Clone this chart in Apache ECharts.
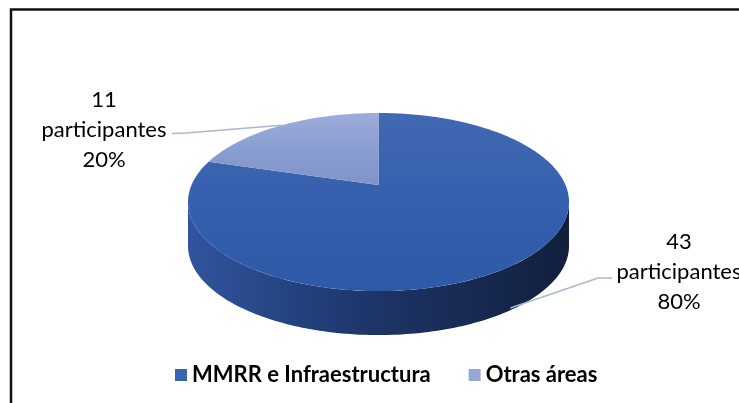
<!DOCTYPE html>
<html>
<head>
<meta charset="utf-8">
<script src="https://cdn.jsdelivr.net/npm/echarts@6/dist/echarts.min.js"></script>
<style>
  html, body { margin: 0; padding: 0; background: #fff; }
  #chart { width: 739px; height: 403px; }
</style>
</head>
<body>
<div id="chart"></div>
<script>
var categories = ["MMRR e Infraestructura", "Otras áreas"];
var participants = [43, 11];

// tilted pie geometry (px)
var CX = 378.5, CY = 185, RX = 187, RY = 85.8, PERSP = 0.191, DEPTH = 44;
var total = participants.reduce(function (a, b) { return a + b; }, 0);

// theta: clockwise from 12 o'clock
function project(theta, dy) {
  var u = Math.sin(theta), v = -Math.cos(theta);
  var k = 1 - PERSP * v;
  return [CX + RX * u / k, CY + RY * v / k + (dy || 0)];
}
function arc(t0, t1, dy) {
  var pts = [];
  var n = Math.max(2, Math.ceil(Math.abs(t1 - t0) / 0.02));
  for (var i = 0; i <= n; i++) pts.push(project(t0 + (t1 - t0) * i / n, dy));
  return pts;
}
function grad(x, y, x2, y2, stops) {
  return { type: "linear", x: x, y: y, x2: x2, y2: y2, global: true,
    colorStops: stops.map(function (c, i) { return { offset: i / (stops.length - 1), color: c }; }) };
}

var legendColors = ["#3a63b1", "#97a8d8"];
var topFills = [
  grad(0, 113, 0, 291, ["#4268b2", "#3560ae", "#2e59a6"]),
  grad(0, 113, 0, 190, ["#9dacda", "#8a9dd0", "#7e92c8"])
];
var sideFill = grad(188, 0, 569, 0, ["#30549e", "#254482", "#1d3466", "#172a52", "#121f3d"]);

// label anchors and leader elbows
var labelLayout = [
  { x: 679, y: 272, elbow: [598, 278], end: [612, 278], onSide: true },
  { x: 104, y: 130, elbow: [186, 133], end: [172, 133.5], onSide: false }
];

var sideFrom = Math.acos(-PERSP), sideTo = 2 * Math.PI - Math.acos(-PERSP);

function renderSlice(params, api) {
  var i = params.seriesIndex;
  var value = api.value(0);
  var before = 0;
  for (var j = 0; j < i; j++) before += participants[j];
  var t0 = 2 * Math.PI * before / total;
  var t1 = t0 + 2 * Math.PI * value / total;
  var children = [];

  var s0 = Math.max(t0, sideFrom), s1 = Math.min(t1, sideTo);
  if (s1 > s0) {
    var side = arc(s0, s1, 0).concat(arc(s1, s0, DEPTH));
    children.push({ type: "polygon", shape: { points: side }, style: { fill: sideFill } });
  }
  var top = [[CX, CY]].concat(arc(t0, t1, 0));
  children.push({ type: "polygon", shape: { points: top }, style: { fill: topFills[i] } });

  var lay = labelLayout[i];
  var mid = (t0 + t1) / 2;
  var start = project(mid, lay.onSide ? DEPTH * 0.95 : 0);
  children.push({ type: "polyline", shape: { points: [start, lay.elbow, lay.end] },
    style: { fill: null, stroke: "#a9b9cf", lineWidth: 1.5 } });
  var pct = Math.round(value / total * 100) + "%";
  children.push({ type: "text", style: {
    text: value + "\nparticipantes\n" + pct,
    x: lay.x, y: lay.y, align: "center", verticalAlign: "middle",
    fontFamily: "Lato", fontSize: 22, lineHeight: 30, fill: "#000" } });
  return { type: "group", children: children };
}

var chart = echarts.init(document.getElementById("chart"));
chart.setOption({
  animation: false,
  legend: {
    data: categories,
    left: 170,
    top: 359,
    icon: "rect",
    itemWidth: 12,
    itemHeight: 12,
    itemGap: 38,
    textStyle: { fontFamily: "Lato", fontWeight: "bold", fontSize: 22, color: "#000" }
  },
  graphic: [{
    type: "rect", silent: true,
    shape: { x: 11, y: 9.5, width: 800, height: 500 },
    style: { fill: "none", stroke: "#111", lineWidth: 2.5 }
  }],
  series: categories.map(function (name, i) {
    return {
      name: name,
      type: "custom",
      coordinateSystem: "none",
      silent: true,
      itemStyle: { color: legendColors[i] },
      renderItem: renderSlice,
      data: [[participants[i]]]
    };
  })
});
</script>
</body>
</html>
